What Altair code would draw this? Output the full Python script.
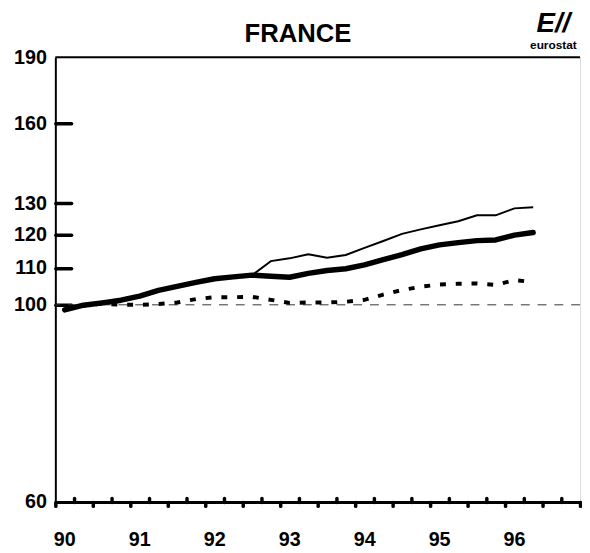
import altair as alt
import pandas as pd

# decimal year at the middle of each quarter, 1990 Q1 .. 1996 Q2
year = [90.125, 90.375, 90.625, 90.875, 91.125, 91.375, 91.625, 91.875,
        92.125, 92.375, 92.625, 92.875, 93.125, 93.375, 93.625, 93.875,
        94.125, 94.375, 94.625, 94.875, 95.125, 95.375, 95.625, 95.875,
        96.125, 96.375]

thin = [98.7, 99.9, 100.5, 101.2, 102.3, 103.8, 104.9, 106.0, 107.0, 107.5,
        108.0, 112.0, 112.8, 114.0, 113.0, 113.8, 115.9, 118.0, 120.2, 121.6,
        122.9, 124.2, 126.1, 126.1, 128.4, 128.8]

thick = [98.7, 99.9, 100.5, 101.2, 102.3, 103.8, 104.9, 106.0, 107.0, 107.5,
         108.0, 107.7, 107.4, 108.5, 109.3, 109.8, 110.9, 112.4, 113.9, 115.6,
         116.8, 117.5, 118.1, 118.3, 119.8, 120.6]

dotted = [98.7, 99.9, 100.3, 100.0, 100.0, 100.2, 100.6, 101.5, 102.0, 102.0,
          102.1, 101.3, 100.5, 100.6, 100.6, 100.8, 101.3, 102.7, 103.9, 104.8,
          105.4, 105.6, 105.7, 105.3, 106.6, 106.1]

y_ticks = [60, 100, 110, 120, 130, 160, 190]
y_inner_ticks = [100, 110, 120, 130, 160]
x_down_ticks = [90, 90.5, 91, 91.5, 92, 92.5, 93, 93.5, 94, 94.5, 95, 95.5, 96, 96.5, 97]
x_up_ticks = [90.25, 90.75, 91.25, 91.75, 92.25, 92.75, 93.25, 93.75, 94.25,
              94.75, 95.25, 95.75, 96.25, 96.75]

title_str = "FRANCE"
logo_glyph = "E//"
logo_word = "eurostat"

df = pd.DataFrame({"year": year, "thin": thin, "thick": thick, "dotted": dotted})
one = pd.DataFrame({"k": [0]})

FONT = "Liberation Sans"
W, H = 532, 451

xscale = alt.Scale(domain=[90, 97], nice=False, zero=False)
yscale = alt.Scale(type="log", domain=[60, 190], nice=False)

base = alt.Chart(df)

thin_layer = base.mark_line(color="black", strokeWidth=2).encode(
    x=alt.X("year:Q", scale=xscale, title=None,
            axis=alt.Axis(orient="bottom", values=x_down_ticks, grid=False,
                          domainColor="black", domainWidth=3,
                          tickColor="black", tickSize=4, tickWidth=3.5, tickCap="round",
                          labelExpr="(datum.value % 1 == 0 && datum.value < 97) ? format(datum.value, 'd') : ''",
                          labelAlign="left", labelOffset=-2, labelPadding=24,
                          labelFont=FONT, labelFontSize=20, labelFontWeight="bold",
                          labelColor="black", labelOverlap=False, labelFlush=False)),
    y=alt.Y("thin:Q", scale=yscale, title=None,
            axis=alt.Axis(orient="left", values=y_ticks, grid=False, ticks=False,
                          domainColor="black", domainWidth=2,
                          labelPadding=9, labelFont=FONT, labelFontSize=20,
                          labelFontWeight="bold", labelColor="black",
                          labelOverlap=False, labelFlush=False)),
)

thick_layer = base.mark_line(color="black", strokeWidth=5.5, strokeCap="round",
                             strokeJoin="round").encode(
    x=alt.X("year:Q", scale=xscale, title=None,
            axis=alt.Axis(orient="top", offset=-H, values=x_up_ticks, grid=False,
                          domain=False, labels=False, tickColor="black",
                          tickSize=4, tickWidth=3.5, tickCap="round")),
    y=alt.Y("thick:Q", scale=yscale, title=None,
            axis=alt.Axis(orient="right", offset=-W, values=y_inner_ticks, grid=False,
                          domain=False, labels=False, tickColor="black",
                          tickSize=16, tickWidth=3.5, tickCap="round")),
)

dotted_layer = base.mark_line(color="black", strokeWidth=4,
                              strokeDash=[6, 10]).encode(
    x=alt.X("year:Q", scale=xscale, axis=None),
    y=alt.Y("dotted:Q", scale=yscale, axis=None),
)

ref_line = alt.Chart(one).mark_rule(color="#333333", strokeWidth=1,
                                    strokeDash=[9, 8]).encode(
    y=alt.datum(100, scale=yscale, axis=None)
)

top_line = alt.Chart(one).mark_rule(color="black", strokeWidth=2).encode(
    y=alt.datum(190, scale=yscale, axis=None)
)

title_text = alt.Chart(one).mark_text(text=title_str, font=FONT, fontSize=26,
                                      fontWeight="bold", color="black",
                                      baseline="alphabetic", align="center").encode(
    x=alt.value(246), y=alt.value(-15)
)

logo_mark = alt.Chart(one).mark_text(text=logo_glyph, font=FONT, fontSize=28,
                                     fontWeight="bold", fontStyle="italic",
                                     color="black", baseline="alphabetic").encode(
    x=alt.value(505), y=alt.value(-25)
)
logo_text = alt.Chart(one).mark_text(text=logo_word, font=FONT, fontSize=12,
                                     fontWeight="bold", color="black",
                                     baseline="alphabetic").encode(
    x=alt.value(505), y=alt.value(-8)
)

chart = alt.layer(
    ref_line, dotted_layer, thin_layer, thick_layer, top_line,
    title_text, logo_mark, logo_text
).resolve_axis(x="independent", y="independent").properties(
    width=W, height=H,
    autosize=alt.AutoSizeParams(type="none"),
    padding={"left": 48, "top": 46, "right": 2, "bottom": 52},
).configure_view(stroke=None).configure(background="white")

chart.save("out.html", embed_options={"renderer": "svg", "actions": False})
